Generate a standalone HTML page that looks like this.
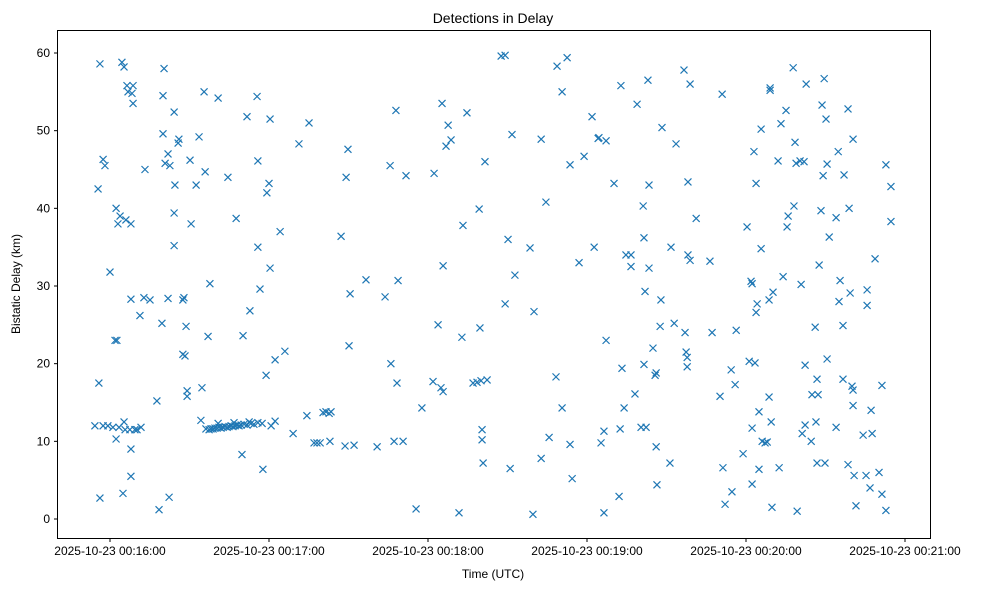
<!DOCTYPE html>
<html><head><meta charset="utf-8"><style>
body{margin:0;background:#fff;}
svg{display:block;font-family:"Liberation Sans","DejaVu Sans",sans-serif;}
</style></head><body>
<svg id="chart" width="986" height="590">
<rect x="0" y="0" width="986" height="590" fill="#fff"/>
<text x="493" y="23" text-anchor="middle" font-size="14">Detections in Delay</text>
<g id="plot"></g>
<rect x="57.5" y="30.5" width="873" height="508" fill="none" stroke="#000" stroke-width="1"/>
<text x="493" y="578" text-anchor="middle" font-size="12">Time (UTC)</text>
<text transform="translate(20,284) rotate(-90)" text-anchor="middle" font-size="12">Bistatic Delay (km)</text>
<g id="xticks"></g>
<g id="yticks"></g>
</svg>
<script>
// time in seconds after 2025-10-23 00:16:00 UTC, delay in km
const xTickSeconds=[0,60,120,180,240,300];
const xTickLabels=["2025-10-23 00:16:00","2025-10-23 00:17:00","2025-10-23 00:18:00","2025-10-23 00:19:00","2025-10-23 00:20:00","2025-10-23 00:21:00"];
const yTicks=[0,10,20,30,40,50,60];
const detections=[
[-4.5,42.5],[-4.2,17.5],[-3.8,58.6],[-3.8,2.7],[-5.7,12],[-2.6,46.3],[-1.9,45.5],[-2.6,12],[0,31.8],[-0.8,12],[1.1,11.8],[1.9,23],[2.6,23],[2.3,10.3],[2.3,40],[3,38],[3.8,39],[3.4,11.8],[4.5,58.8],[4.9,3.3],[5.3,12.5],[5.3,58.2],[5.7,11.5],[6,38.5],[6.4,55.8],[6.8,55],[7.5,11.5],[7.9,38],[7.9,28.3],[7.9,9],[7.9,5.5],[8.3,54.8],[8.7,55.8],[8.7,53.5],[9.4,11.5],[10.2,11.5],[11.7,11.8],[11.3,26.2],[12.8,28.5],[13.2,45],[15.1,28.2],[17.7,15.2],[18.5,1.2],[19.6,25.2],[20,49.6],[20,54.5],[20.4,58],[20.8,45.8],[21.9,47],[21.9,28.4],[22.3,2.8],[22.6,45.5],[24.2,52.4],[24.2,39.4],[24.2,35.2],[24.5,43],[25.7,48.4],[26,48.9],[27.5,28.2],[27.5,21.2],[27.9,28.5],[28.3,21],[28.7,24.8],[29.1,15.8],[29.1,16.5],[30.2,46.2],[30.6,38],[32.5,43],[33.6,49.2],[34.3,12.7],[34.7,16.9],[35.5,55],[35.9,44.7],[36.2,11.6],[37,23.5],[37.4,11.5],[37.7,30.3],[38.1,11.6],
[38.9,11.6],[39.6,11.7],[40.4,11.7],[41.1,11.8],[41.9,11.7],[42.7,11.8],[43.4,11.9],[44.2,11.8],[44.9,11.9],[45.7,12],[46.4,11.9],[47.2,12],[48,12.1],[48.7,12],[49.5,12.1],[50.6,12.2],[51.7,12.1],[53.2,12.3],[54.3,12.2],[55.8,12.4],[57.4,12.3],[40.8,12.3],[46.8,12.4],[52.5,12.5],
[40.8,54.2],[44.5,44],[47.6,38.7],[49.8,8.3],[50.2,23.6],[51.7,51.8],[52.8,26.8],[55.5,54.4],[55.8,46.1],[55.8,35],[56.6,29.6],[57.7,6.4],[58.9,18.5],[59.2,42],[60,43.2],[60.4,51.5],[60.4,32.3],[60.8,12],[62.3,12.6],[62.3,20.5],[64.2,37],[66,21.6],[69.1,11],[71.3,48.3],[74.3,13.3],[75.1,51],[77,9.8],[78.1,9.8],[79.3,9.8],[80.4,13.7],[81.5,13.8],[82.7,13.6],[83,10],[83.4,13.8],[87.2,36.4],[88.7,9.4],[89.1,44],[89.8,47.6],[90.2,22.3],[90.6,29],[92.1,9.5],[96.6,30.8],[100.8,9.3],[103.8,28.6],[105.7,45.5],[106,20],[107.2,10],[107.9,52.6],[108.3,17.5],[108.7,30.7],[110.6,10],[111.7,44.2],[115.5,1.3],[117.7,14.3],[121.9,17.7],[122.3,44.5],[123.8,25],[124.9,16.9],[125.3,53.5],[125.7,16.4],[125.7,32.6],[126.8,48],[127.6,50.7],[128.7,48.8],[131.7,0.8],[132.8,23.4],[133.2,37.8],[134.7,52.3],[137,17.5],[138.5,17.6],[139.3,39.9],[139.6,24.6],[140,17.8],[140.4,11.5],[140.4,10.2],[140.8,7.2],[141.5,46],[142.3,17.9],[147.6,59.6],[149.1,59.7],[149.1,27.7],[150.2,36],[151,6.5],[151.7,49.5],[152.8,31.4],[158.5,34.9],[159.6,0.6],[160,26.7],[162.7,48.9],[162.7,7.8],[164.5,40.8],[165.7,10.5],[168.3,18.3],[168.7,58.3],[170.6,55],[170.6,14.3],[172.5,59.4],[173.6,45.6],[174.4,5.2],[173.6,9.6],[177,33],[178.9,46.7],[181.9,51.8],[182.7,35],[184.2,49],[184.5,49.1],[185.3,9.8],[186.4,0.8],[186.4,11.3],[187.2,23],[187.2,48.7],[190.2,43.2],[192.1,2.9],[192.5,11.6],[192.8,55.8],[193.2,19.4],[194,14.3],[194.7,34],[196.6,34],[196.6,32.5],[198.1,16.1],[198.9,53.4],[200.4,11.8],[201.2,40.3],[201.5,36.2],[201.5,19.9],[201.9,29.3],[202.3,11.8],[203,56.5],[203.4,43],[203.4,32.3],[204.9,22],[205.7,18.5],[206.1,18.8],[206.1,9.3],[206.4,4.4],[207.6,24.8],[207.9,28.2],[208.3,50.4],[211.3,7.2],[211.7,35],[212.9,25.2],[213.6,48.3],[216.6,57.8],[217,24],[217.4,21.5],[217.8,20.8],[217.8,19.6],[218.1,34],[218.1,43.4],[218.9,56],[218.9,33.3],[221.2,38.7],[226.4,33.2],[227.2,24],[230.2,15.8],[231,54.7],[231.3,6.6],[232.1,1.9],[234.4,19.2],[234.7,3.5],[235.9,17.3],[236.3,24.3],[238.9,8.4],[240.4,37.6],[241.2,20.3],[241.9,30.6],[242.3,30.3],[242.3,11.7],[242.3,4.5],[243,47.3],[243.4,20.1],[243.8,43.2],[243.8,26.6],[244.2,27.7],[244.9,13.8],[244.9,6.4],[245.7,50.2],[245.7,34.8],[246.1,10],[247.2,9.8],[248,9.9],[248.7,15.7],[248.7,28.2],[249.1,55.5],[249.1,55.2],[249.5,12.5],[249.8,1.5],[250.2,29.2],[252.1,46.1],[252.5,6.6],[253.2,50.9],[254,31.2],[255.1,52.6],[255.5,37.6],[255.9,39],[257.8,58.1],[258.1,40.3],[258.5,48.5],[258.9,45.8],[259.3,1],[260.4,46.1],[260.8,30.2],[261.2,11],[261.9,46],[262.3,19.8],[262.7,56],[262.3,12.1],[264.6,10],[264.9,16],[266.1,24.7],[266.4,12.5],[266.8,18],[266.8,7.2],[267.2,16],[267.6,32.7],[268.3,39.7],[268.7,53.3],[269.1,44.2],[269.5,56.7],[269.8,7.2],[270.2,51.5],[270.6,20.6],[270.6,45.7],[271.4,36.3],[274,38.8],[274,11.8],[274.8,47.3],[275.1,28],[275.5,30.7],[276.6,18],[276.6,24.9],[277,44.3],[278.5,52.8],[278.5,7],[278.9,40],[279.3,29.1],[280,17.1],[280.4,48.9],[280.4,16.6],[280.4,14.6],[280.8,5.6],[281.5,1.7],[284.2,10.8],[285.3,5.6],[285.7,29.5],[285.7,27.5],[286.8,4],[287.2,14],[287.6,11],[288.7,33.5],[290.2,6],[291.3,17.2],[291.3,3.2],[292.8,45.6],[292.8,1.1],[294.7,38.3],[294.7,42.8]
];
const NS="http://www.w3.org/2000/svg";
function xScale(s){return 110+s*159/60;}
function yScale(d){return 519-d*(466/60);}
const plot=document.getElementById('plot');
detections.forEach(p=>{
  const x=xScale(p[0]), y=yScale(p[1]);
  const m=document.createElementNS(NS,'path');
  m.setAttribute('d',`M${x-3.5},${y-3.5}L${x+3.5},${y+3.5}M${x-3.5},${y+3.5}L${x+3.5},${y-3.5}`);
  m.setAttribute('stroke','#1f77b4');
  m.setAttribute('stroke-width','1.2');
  m.setAttribute('fill','none');
  
  
  plot.appendChild(m);
});
const xg=document.getElementById('xticks');
xTickSeconds.forEach((s,i)=>{
  const x=xScale(s);
  const l=document.createElementNS(NS,'line');
  l.setAttribute('x1',x);l.setAttribute('x2',x);l.setAttribute('y1',538.5);l.setAttribute('y2',542);
  l.setAttribute('stroke','#000');
  
  
  xg.appendChild(l);
  const t=document.createElementNS(NS,'text');
  t.setAttribute('x',x);t.setAttribute('y',555);t.setAttribute('text-anchor','middle');t.setAttribute('font-size','12');
  t.textContent=xTickLabels[i];
  
  
  xg.appendChild(t);
});
const yg=document.getElementById('yticks');
yTicks.forEach(v=>{
  const y=yScale(v);
  const l=document.createElementNS(NS,'line');
  l.setAttribute('x1',54);l.setAttribute('x2',57.5);l.setAttribute('y1',y);l.setAttribute('y2',y);
  l.setAttribute('stroke','#000');
  
  
  yg.appendChild(l);
  const t=document.createElementNS(NS,'text');
  t.setAttribute('x',50);t.setAttribute('y',y+4);t.setAttribute('text-anchor','end');t.setAttribute('font-size','12');
  t.textContent=v;
  
  
  yg.appendChild(t);
});
</script>
</body></html>
